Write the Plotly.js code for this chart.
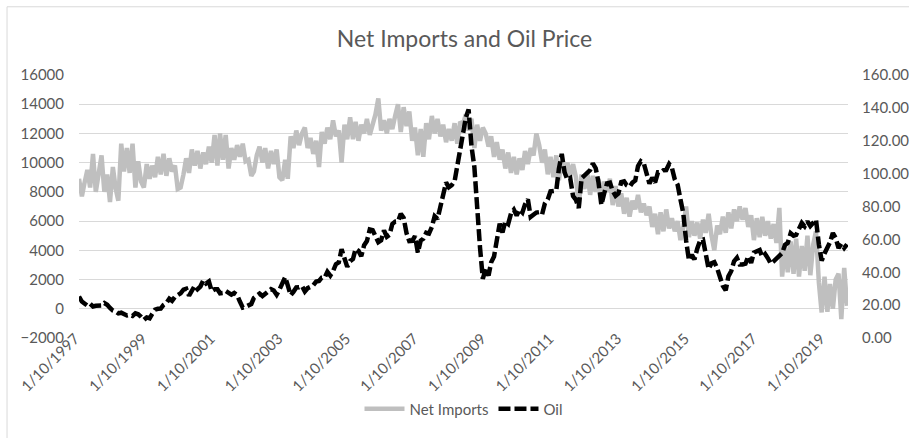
<!DOCTYPE html>
<html><head><meta charset="utf-8">
<script src="https://cdn.plot.ly/plotly-3.0.1.min.js"></script>
<style>html,body{margin:0;padding:0;background:#fff;} #chart{width:909px;height:438px;}</style>
</head><body><div id="chart"></div>
<script>
// Monthly readings, Jan 1997 .. Sep 2019
const startYear = 1997;
const netImports = [
  8900, 7700, 8600, 9500, 8300, 10600, 8000, 9500, 10500, 8000, 9200, 7300,
  9700, 8200, 7400, 11300, 9400, 11000, 9300, 11300, 8300, 10100, 8700, 8300,
  9900, 8900, 9800, 9000, 10400, 9200, 10600, 9100, 10300, 9400, 9800, 8200,
  8300, 9200, 10300, 9300, 10900, 9800, 10800, 9600, 10700, 9900, 11100, 10000,
  11900, 9800, 12000, 10200, 11900, 9600, 11000, 10200, 11200, 10400, 11300, 10100,
  10200, 9100, 9400, 10500, 11100, 10000, 11000, 9600, 10800, 9900, 10900, 9000,
  8800, 10200, 8900, 11800, 11000, 12200, 11200, 12000, 12400, 11000, 11700, 10600,
  11500, 9700, 12100, 11300, 12400, 11600, 12900, 11800, 12200, 10000, 12600, 11600,
  13100, 11600, 12800, 11500, 12600, 12000, 13000, 11900, 12500, 13300, 14400, 12200,
  12900, 12000, 13000, 12300, 13200, 14000, 12100, 13800, 12500, 13500, 11500, 12400,
  10500, 12300, 10400, 12700, 11600, 13200, 12000, 13000, 11800, 12600, 11400, 12300,
  11500, 12700, 11300, 12800, 12600, 13300, 12200, 13000, 11000, 12600, 11500, 12400,
  12000, 11100, 11800, 10400, 11400, 10200, 10900, 9600, 10700, 9300, 10400, 9200,
  10300, 9500, 10800, 9900, 11000, 10500, 12000, 11200, 10000, 10900, 9200, 10400,
  9000, 10500, 8800, 10200, 9300, 10000, 9100, 9900, 9000, 7000, 9200, 8200,
  9300, 7800, 9100, 8000, 8900, 7600, 8700, 8000, 8900, 7100, 8400, 7000,
  7900, 6500, 7600, 6300, 7400, 6800, 7800, 6600, 7200, 6400, 7000, 5600,
  6500, 5100, 6600, 5300, 6800, 5500, 6200, 5300, 6000, 4700, 5600, 7000,
  4900, 6000, 5000, 5900, 4800, 6100, 5200, 6500, 5000, 4000, 5700, 5100,
  6300, 5200, 6600, 5500, 6800, 6000, 7000, 6100, 6900, 5600, 6400, 4700,
  6200, 4900, 6300, 5000, 6000, 4800, 5800, 4500, 6900, 2200, 4300, 2500,
  4600, 2400, 4800, 2200, 4300, 2600, 5000, 2300, 4400, 5300, 1800, -250,
  2200, -200, 1700, 0, 2000, 2400, -700, 2800, 200
];
const oilPrice = [
  25.2, 22.2, 21.0, 19.7, 20.8, 19.2, 19.6, 19.9, 19.8, 21.3, 20.2, 18.3,
  16.7, 16.1, 15.0, 15.4, 14.9, 13.7, 14.1, 13.4, 15.0, 14.4, 12.9, 11.0,
  12.5, 12.0, 14.7, 17.3, 17.8, 17.9, 20.1, 21.3, 23.9, 22.6, 25.0, 26.1,
  27.2, 29.4, 29.9, 25.7, 28.8, 31.8, 29.7, 31.3, 35.0, 33.1, 34.4, 28.5,
  29.6, 29.6, 27.2, 27.4, 28.6, 27.6, 26.4, 27.4, 26.2, 22.2, 18.5, 19.0,
  19.7, 20.7, 24.4, 26.2, 27.0, 25.5, 26.9, 28.4, 29.7, 28.9, 26.3, 29.4,
  32.9, 37.0, 32.0, 26.0, 28.1, 30.7, 30.8, 31.6, 28.3, 30.3, 31.1, 32.1,
  34.3, 34.7, 36.7, 36.7, 40.3, 38.0, 40.7, 44.9, 46.0, 54.0, 48.5, 43.3,
  46.8, 48.1, 54.2, 53.0, 49.8, 56.4, 59.0, 66.0, 65.6, 62.3, 58.3, 59.4,
  65.5, 61.6, 62.7, 69.4, 70.8, 70.9, 75.5, 73.0, 63.8, 58.9, 59.1, 62.0,
  52.0, 59.3, 60.4, 64.0, 63.5, 67.5, 74.1, 72.4, 79.9, 86.2, 94.6, 91.7,
  93.0, 95.4, 105.5, 112.6, 125.4, 134.0, 139.0, 116.7, 104.1, 76.6, 55.0, 36.0,
  42.0, 38.0, 46.0, 49.6, 59.0, 69.6, 64.2, 71.0, 69.4, 75.7, 78.0, 74.5,
  78.3, 76.4, 81.2, 84.3, 73.7, 75.3, 76.3, 76.6, 75.2, 81.9, 84.3, 89.2,
  89.6, 89.7, 102.9, 112.0, 100.9, 96.3, 97.3, 86.3, 84.0, 79.0, 97.2, 98.6,
  100.3, 102.2, 106.2, 103.3, 94.7, 81.0, 87.9, 94.1, 94.5, 89.5, 86.5, 87.9,
  94.8, 95.3, 92.9, 92.0, 94.5, 95.8, 104.6, 107.5, 106.3, 100.5, 93.9, 97.6,
  94.6, 100.8, 100.8, 102.1, 102.2, 105.8, 103.6, 96.5, 93.2, 84.4, 75.8, 59.3,
  47.2, 50.6, 47.8, 54.5, 59.3, 59.8, 50.9, 42.0, 45.5, 46.2, 42.4, 37.2,
  31.7, 29.0, 37.5, 40.8, 46.7, 48.8, 44.7, 44.7, 45.2, 49.8, 45.7, 52.0,
  52.5, 53.5, 49.3, 51.1, 48.5, 45.2, 46.6, 48.0, 49.8, 51.6, 56.6, 57.9,
  63.7, 62.2, 62.7, 66.3, 70.0, 67.9, 71.0, 68.1, 70.2, 72.0, 57.0, 47.0,
  51.4, 55.0, 58.2, 63.9, 60.8, 54.7, 57.4, 54.8, 57.0
];
const tickDates = ['1997-01-10','1999-01-10','2001-01-10','2003-01-10','2005-01-10','2007-01-10',
  '2009-01-10','2011-01-10','2013-01-10','2015-01-10','2017-01-10','2019-01-10'];
const tickLabels = ['1/10/1997','1/10/1999','1/10/2001','1/10/2003','1/10/2005','1/10/2007',
  '1/10/2009','1/10/2011','1/10/2013','1/10/2015','1/10/2017','1/10/2019'];

const dates = netImports.map((_, i) => {
  const y = startYear + Math.floor(i / 12);
  const m = (i % 12) + 1;
  return y + '-' + String(m).padStart(2, '0') + '-10';
});

const FONT = 'Lato, "Open Sans", sans-serif';
const TXT = '#595959';

const traces = [
  {x: dates, y: netImports, name: 'Net Imports', type: 'scatter', mode: 'lines',
   line: {color: '#BFBFBF', width: 4.5}, yaxis: 'y'},
  {x: dates, y: oilPrice, name: 'Oil', type: 'scatter', mode: 'lines',
   line: {color: '#000000', width: 4.5, dash: '12px,4px'}, yaxis: 'y2'}
];

const layout = {
  width: 909, height: 438,
  margin: {l: 79, r: 61, t: 75, b: 97},
  paper_bgcolor: '#ffffff', plot_bgcolor: '#ffffff',
  font: {family: FONT, color: TXT, size: 15},
  title: {text: 'Net Imports and Oil Price', x: 0.511, xanchor: 'center', y: 0.91, yanchor: 'middle',
          font: {family: FONT, size: 23, color: TXT}},
  showlegend: true,
  legend: {orientation: 'h', x: 0.5, xanchor: 'center', y: -0.27, yanchor: 'middle',
           font: {family: FONT, size: 15, color: TXT}, itemwidth: 40},
  xaxis: {type: 'date', range: ['1997-01-10', '2019-09-20'],
          tickmode: 'array', tickvals: tickDates, ticktext: tickLabels,
          tickangle: -45, showgrid: false, zeroline: false, showline: false,
          ticks: '', tickfont: {family: FONT, size: 15, color: TXT},
          ticklabelstandoff: -12, ticklabelshift: -4},
  yaxis: {range: [-2000, 16000], dtick: 2000, tick0: 0, tickformat: 'd',
          showgrid: true, gridcolor: '#D9D9D9', gridwidth: 1,
          zeroline: false, showline: false, ticks: '', tickfont: {family: FONT, size: 15, color: TXT},
          ticklabelstandoff: 14},
  yaxis2: {range: [0, 160], dtick: 20, tick0: 0, overlaying: 'y', side: 'right', showgrid: false,
           zeroline: false, showline: false, ticks: '', tickformat: '.2f',
           tickfont: {family: FONT, size: 15, color: TXT}, ticklabelstandoff: 13},
  shapes: [
    {type: 'line', xref: 'paper', yref: 'paper', x0: -0.0936, x1: -0.0936, y0: 1.2594, y1: -0.45,
     line: {color: '#D9D9D9', width: 1}},
    {type: 'line', xref: 'paper', yref: 'paper', x0: -0.0936, x1: 1.2, y0: 1.2594, y1: 1.2594,
     line: {color: '#D9D9D9', width: 1}}
  ]
};

Plotly.newPlot('chart', traces, layout, {displayModeBar: false, staticPlot: true});
</script>
</body></html>
